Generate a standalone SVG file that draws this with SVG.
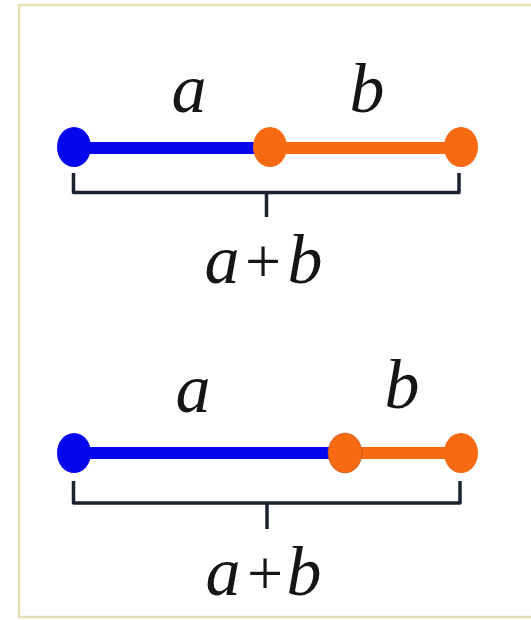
<svg xmlns="http://www.w3.org/2000/svg" width="531" height="620" viewBox="0 0 531 620">
<style>
.lbl{font-family:"Liberation Serif","Times New Roman",serif;font-size:70px;font-style:italic;fill:#151515;text-anchor:middle}
.up{font-style:normal;font-size:64px}
.blue{stroke:#0505ee;stroke-width:12;fill:none}
.orange{stroke:#f86a12;stroke-width:12;fill:none}
.bdot{fill:#0505ee}
.odot{fill:#f86a12}
.brace{stroke:#1b2230;stroke-width:3.5;fill:none;stroke-linejoin:round}
</style>
<rect x="0" y="0" width="531" height="620" fill="#ffffff"/>
<rect x="19" y="5" width="530" height="612" fill="#ffffff" stroke="#e6dfb6" stroke-width="2.5"/>
<g id="connectors">
<line class="blue" x1="74" y1="148" x2="270" y2="148"/>
<line class="orange" x1="270" y1="148" x2="461" y2="148"/>
<path class="brace" d="M73.5 173 V192.5 H459 V173 M266.5 192.5 V217"/>
<line class="blue" x1="74" y1="453" x2="345" y2="453"/>
<line class="orange" x1="345" y1="453" x2="461" y2="453"/>
<path class="brace" d="M73.5 481 V503 H460 V481 M267 503 V529"/>
</g>
<g id="top-a-start"><ellipse class="bdot" cx="74" cy="147" rx="17" ry="20"/></g>
<g id="top-mid"><ellipse class="odot" cx="270" cy="147" rx="17" ry="20"/></g>
<g id="top-end"><ellipse class="odot" cx="461" cy="147" rx="17" ry="20"/></g>
<g id="top-labels">
<text class="lbl" x="189" y="112">a</text>
<text class="lbl" x="367" y="112">b</text>
<text class="lbl" y="283"><tspan x="222">a</tspan><tspan class="up" x="263">+</tspan><tspan x="305">b</tspan></text>
</g>
<g id="bot-a-start"><ellipse class="bdot" cx="74" cy="453" rx="17" ry="20"/></g>
<g id="bot-mid"><ellipse class="odot" cx="345" cy="453" rx="17" ry="20" stroke="#a0502a" stroke-width="1" stroke-opacity="0.5"/></g>
<g id="bot-end"><ellipse class="odot" cx="461" cy="453" rx="17" ry="20"/></g>
<g id="bot-labels">
<text class="lbl" x="193" y="412">a</text>
<text class="lbl" x="402" y="408">b</text>
<text class="lbl" y="595"><tspan x="223">a</tspan><tspan class="up" x="265">+</tspan><tspan x="304">b</tspan></text>
</g>
</svg>
